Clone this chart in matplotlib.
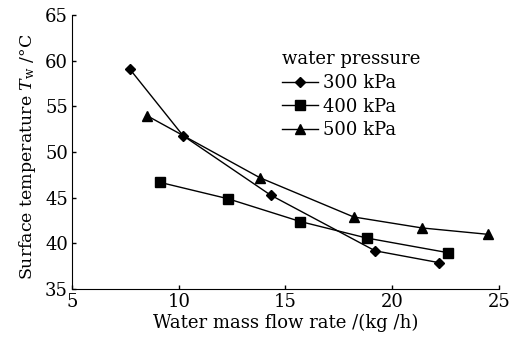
import matplotlib
matplotlib.use("Agg")
import matplotlib.pyplot as plt

plt.rcParams['font.family'] = 'DejaVu Serif'
plt.rcParams['mathtext.fontset'] = 'dejavuserif'

flow_300 = [7.7, 10.2, 14.3, 19.2, 22.2]
temp_300 = [59.1, 51.8, 45.3, 39.2, 37.9]
flow_400 = [9.1, 12.3, 15.7, 18.8, 22.6]
temp_400 = [46.7, 44.9, 42.4, 40.6, 39.0]
flow_500 = [8.5, 13.8, 18.2, 21.4, 24.5]
temp_500 = [54.0, 47.2, 42.9, 41.7, 41.0]

fig = plt.figure(figsize=(5.19, 3.43), dpi=100)
ax = fig.add_axes([0.139, 0.157, 0.822, 0.799])

ax.plot(flow_300, temp_300, color='black', lw=1, marker='D', ms=5.5, label='300 kPa')
ax.plot(flow_400, temp_400, color='black', lw=1, marker='s', ms=6.5, label='400 kPa')
ax.plot(flow_500, temp_500, color='black', lw=1, marker='^', ms=7, label='500 kPa')

ax.set_xlim(5, 25)
ax.set_ylim(35, 65)
ax.set_xticks([5, 10, 15, 20, 25])
ax.set_yticks([35, 40, 45, 50, 55, 60, 65])
ax.spines['top'].set_visible(False)
ax.spines['right'].set_visible(False)
ax.tick_params(direction='in', length=3, width=1, labelsize=13, pad=3)
ax.set_xlabel('Water mass flow rate /(kg /h)', fontsize=13, labelpad=2)
ax.set_ylabel(r'Surface temperature $T_{\rm w}$ /°C', fontsize=12.5)
ax.yaxis.set_label_coords(-0.08, 0.484)

leg = ax.legend(title='water pressure', loc='upper left', bbox_to_anchor=(0.47, 0.905),
                frameon=False, fontsize=13, title_fontsize=13, handlelength=2.0,
                handletextpad=0.3, labelspacing=0.32, borderpad=0)
leg._legend_box.align = 'left'

fig.savefig('out.png', dpi=100)
